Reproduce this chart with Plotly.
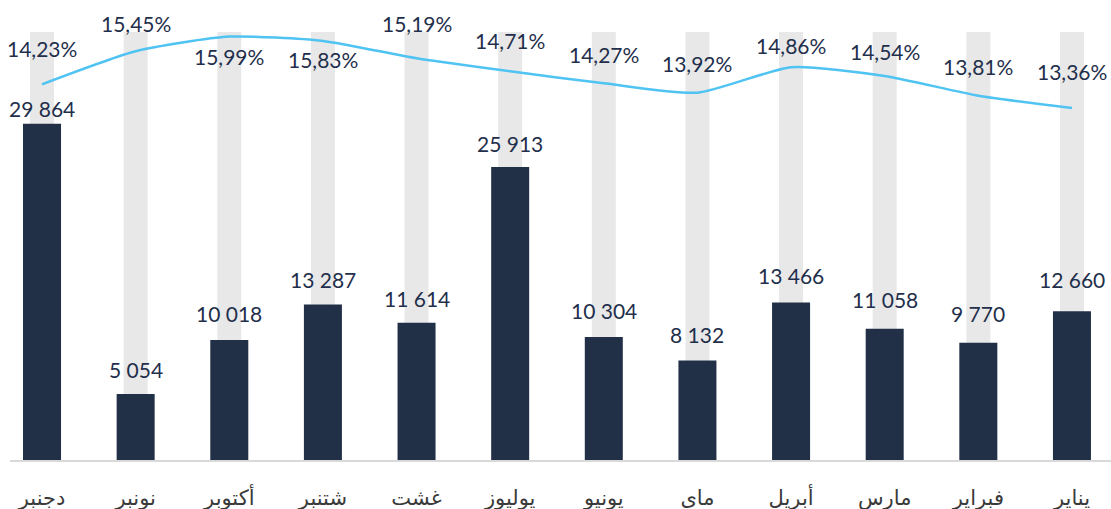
import plotly.graph_objects as go

# ---- data (chronological order; the x axis is reversed, right-to-left) ----
MONTHS = ["يناير", "فبراير", "مارس", "أبريل", "ماى", "يونيو",
          "يوليوز", "غشت", "شتنبر", "أكتوبر", "نونبر", "دجنبر"]
VALUES = [12660, 9770, 11058, 13466, 8132, 10304,
          25913, 11614, 13287, 10018, 5054, 29864]
RATES = [13.36, 13.81, 14.54, 14.86, 13.92, 14.27,
         14.71, 15.19, 15.83, 15.99, 15.45, 14.23]

# ---- styling / layout parameters ----
Y_MIN, Y_MAX = -1000, 38300          # primary axis range
Y2_MIN, Y2_MAX = 0.37, 16.16         # secondary (rate) axis range
BAR_LABEL_SHIFT = [32, 29, 29, 27, 26, 26, 23, 24, 25, 27, 25, 15]      # px above bar top (label centre)
RATE_LABEL_SHIFT = [36, 29, 24, 22, 29, 29, 31, 35, -19, -20, 28, 36]   # px above point (label centre)

NAVY = "#213047"
TEXT = "#1F2F4C"
GREY_BG = "#E8E8E8"
LINE = "#4FC3F2"

fig = go.Figure()

# background full-height grey bars
fig.add_trace(go.Bar(
    x=MONTHS, y=[Y_MAX - Y_MIN] * len(MONTHS), base=Y_MIN,
    width=0.256, marker_color=GREY_BG, marker_line_width=0,
    hoverinfo="skip", showlegend=False,
))

# value bars (drawn from the axis floor)
fig.add_trace(go.Bar(
    x=MONTHS, y=[v - Y_MIN for v in VALUES], base=Y_MIN,
    width=0.406, marker_color=NAVY, marker_line_width=0,
    customdata=VALUES, hovertemplate="%{x}: %{customdata}<extra></extra>",
    showlegend=False,
))

# rate line on secondary axis
fig.add_trace(go.Scatter(
    x=MONTHS, y=RATES, yaxis="y2", mode="lines",
    line=dict(color=LINE, width=2.5, shape="spline", smoothing=0.6),
    showlegend=False,
))

annotations = []
for m, v, s in zip(MONTHS, VALUES, BAR_LABEL_SHIFT):
    annotations.append(dict(
        x=m, y=v, xref="x", yref="y", text=f"{v:,}".replace(",", " "),
        showarrow=False, yanchor="middle", yshift=s,
        font=dict(family="Lato", size=21, color=TEXT),
    ))
for m, r, s in zip(MONTHS, RATES, RATE_LABEL_SHIFT):
    annotations.append(dict(
        x=m, y=r, xref="x", yref="y2", text=f"{r:.2f}%".replace(".", ","),
        showarrow=False, yanchor="middle", yshift=s,
        font=dict(family="Lato", size=21, color=TEXT),
    ))

fig.update_layout(
    width=1111, height=509,
    margin=dict(l=10, r=0, t=32, b=49),
    paper_bgcolor="white", plot_bgcolor="white",
    barmode="overlay",
    xaxis=dict(
        type="category", range=[11.342, -0.417],
        showline=True, linecolor="#D9D9D9", linewidth=2,
        showgrid=False, zeroline=False, ticks="",
        ticklabelstandoff=18,
        tickfont=dict(family="DejaVu Sans", size=21, color="#3A3A3A"),
    ),
    yaxis=dict(range=[Y_MIN, Y_MAX], visible=False, showgrid=False, zeroline=False),
    yaxis2=dict(range=[Y2_MIN, Y2_MAX], overlaying="y", side="right",
                visible=False, showgrid=False, zeroline=False),
    annotations=annotations,
)

fig.write_html(
    "out.html",
    config={"displayModeBar": False},
    post_script="document.body.style.margin='0';document.body.style.overflow='hidden';",
)
